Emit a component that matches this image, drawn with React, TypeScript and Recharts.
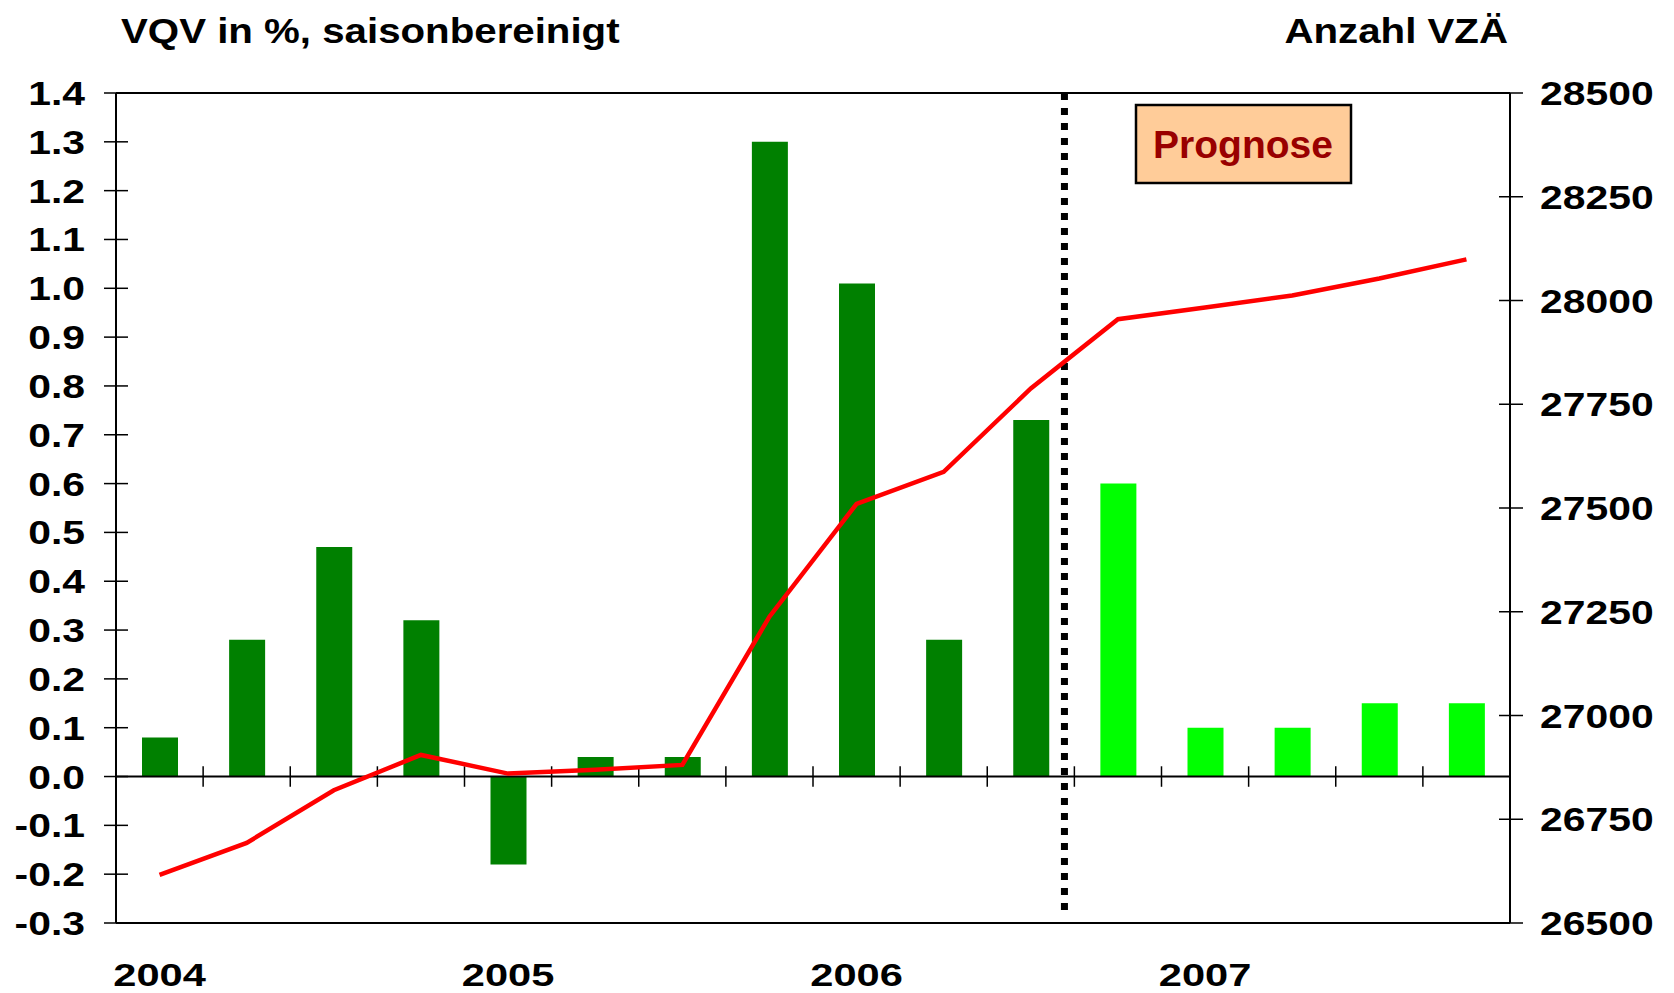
import React from "react";
import {
  ComposedChart,
  Bar,
  Line,
  XAxis,
  YAxis,
  Cell,
  ReferenceLine,
} from "recharts";

// ---- data ----
const quarters = [
  "2004 Q1", "2004 Q2", "2004 Q3", "2004 Q4",
  "2005 Q1", "2005 Q2", "2005 Q3", "2005 Q4",
  "2006 Q1", "2006 Q2", "2006 Q3", "2006 Q4",
  "2007 Q1", "2007 Q2", "2007 Q3", "2007 Q4",
];
const yearLabels = ["2004", "2005", "2006", "2007"];
const vqv = [0.08, 0.28, 0.47, 0.32, -0.18, 0.04, 0.04, 1.3, 1.01, 0.28, 0.73, 0.6, 0.1, 0.1, 0.15, 0.15];
const vza = [26616, 26693, 26820, 26905, 26860, 26869, 26881, 27238, 27510, 27587, 27788, 27955, 27983, 28012, 28053, 28099];
const isForecast = [false, false, false, false, false, false, false, false, false, false, false, true, true, true, true, true];
const leftTicks = [-0.3, -0.2, -0.1, 0, 0.1, 0.2, 0.3, 0.4, 0.5, 0.6, 0.7, 0.8, 0.9, 1.0, 1.1, 1.2, 1.3, 1.4];
const rightTicks = [26500, 26750, 27000, 27250, 27500, 27750, 28000, 28250, 28500];
const forecastBoundary = 10.886; // dotted "Prognose" separator, in quarter units from the left edge
const leftTitle = "VQV in %, saisonbereinigt";
const rightTitle = "Anzahl VZÄ";
const prognoseLabel = "Prognose";

const data = quarters.map((q, i) => ({ q, pos: i + 0.5, vqv: vqv[i], vza: vza[i] }));

const FONT = "'Liberation Sans', Arial, Helvetica, sans-serif";
const SX = 1.22;

const LeftTick = (props: any) => {
  const { x, y, payload } = props;
  const ax = x + 31;
  return (
    <g>
      <line x1={ax - 12} x2={ax + 12} y1={y} y2={y} stroke="#000" strokeWidth={1.5} />
      <text
        transform={`translate(${x},${y + 12}) scale(${SX},1)`}
        textAnchor="end"
        fontFamily={FONT}
        fontWeight="bold"
        fontSize={33.5}
        fill="#000"
      >
        {Number(payload.value).toFixed(1)}
      </text>
    </g>
  );
};

const RightTick = (props: any) => {
  const { x, y, payload } = props;
  const ax = x - 30;
  return (
    <g>
      <line x1={ax - 11} x2={ax + 13} y1={y} y2={y} stroke="#000" strokeWidth={1.5} />
      <text
        transform={`translate(${x},${y + 12}) scale(${SX},1)`}
        textAnchor="start"
        fontFamily={FONT}
        fontWeight="bold"
        fontSize={33.5}
        fill="#000"
      >
        {payload.value}
      </text>
    </g>
  );
};

const YearTick = (props: any) => {
  const { x, y, payload, index } = props;
  const label = String(payload.value);
  if (!label.endsWith("Q1")) return <g />;
  const year = yearLabels[Math.floor(index / 4)];
  return (
    <text
      transform={`translate(${x},${y + 63}) scale(1.3,1)`}
      textAnchor="middle"
      fontFamily={FONT}
      fontWeight="bold"
      fontSize={32}
      fill="#000"
    >
      {year}
    </text>
  );
};

export default function App() {
  return (
    <div style={{ position: "absolute", left: 0, top: 0, width: 1674, height: 993, background: "#fff" }}>
      <ComposedChart
        width={1674}
        height={993}
        data={data}
        margin={{ top: 93, right: 0, bottom: 0, left: 0 }}
      >
        <XAxis
          xAxisId="cat"
          dataKey="q"
          type="category"
          interval={0}
          height={70}
          tickSize={0}
          tickMargin={0}
          tickLine={false}
          axisLine={{ stroke: "#000", strokeWidth: 2 }}
          tick={<YearTick />}
        />
        <XAxis
          xAxisId="num"
          dataKey="pos"
          type="number"
          domain={[0, quarters.length]}
          hide
          allowDataOverflow
        />
        <YAxis
          yAxisId="left"
          orientation="left"
          width={116}
          domain={[-0.3, 1.4]}
          ticks={leftTicks}
          interval={0}
          allowDataOverflow
          tickSize={12}
          tickMargin={19}
          tickLine={false}
          axisLine={{ stroke: "#000", strokeWidth: 2 }}
          tick={<LeftTick />}
        />
        <YAxis
          yAxisId="right"
          orientation="right"
          width={164}
          domain={[26500, 28500]}
          ticks={rightTicks}
          interval={0}
          allowDataOverflow
          tickSize={12}
          tickMargin={18}
          tickLine={false}
          axisLine={{ stroke: "#000", strokeWidth: 2 }}
          tick={<RightTick />}
        />
        <ReferenceLine yAxisId="left" xAxisId="cat" y={1.4} stroke="#000" strokeWidth={2} ifOverflow="visible" />
        <Bar
          xAxisId="cat"
          yAxisId="left"
          dataKey="vqv"
          barSize={36}
          isAnimationActive={false}
        >
          {data.map((d, i) => (
            <Cell key={d.q} fill={isForecast[i] ? "#00FF00" : "#008000"} />
          ))}
        </Bar>
        <ReferenceLine yAxisId="left" xAxisId="cat" y={0} stroke="#000" strokeWidth={2} />
        {quarters.slice(1).map((q, i) => (
          <ReferenceLine
            key={"t" + q}
            xAxisId="num"
            yAxisId="left"
            segment={[{ x: i + 1, y: -0.021 }, { x: i + 1, y: 0.021 }]}
            stroke="#000"
            strokeWidth={1.5}
          />
        ))}
        <ReferenceLine
          xAxisId="num"
          yAxisId="left"
          segment={[{ x: forecastBoundary, y: 1.4 }, { x: forecastBoundary, y: -0.284 }]}
          stroke="#000"
          strokeWidth={7}
          strokeDasharray="7 8"
        />
        <Line
          xAxisId="cat"
          yAxisId="right"
          dataKey="vza"
          type="linear"
          stroke="#FF0000"
          strokeWidth={4.5}
          dot={false}
          activeDot={false}
          isAnimationActive={false}
        />
      </ComposedChart>
      <svg
        width={1674}
        height={993}
        style={{ position: "absolute", left: 0, top: 0, pointerEvents: "none" }}
      >
        <text
          transform={`translate(121,43) scale(1.15,1)`}
          fontFamily={FONT}
          fontWeight="bold"
          fontSize={35}
          fill="#000"
        >
          {leftTitle}
        </text>
        <text
          transform={`translate(1508,43) scale(1.15,1)`}
          textAnchor="end"
          fontFamily={FONT}
          fontWeight="bold"
          fontSize={35}
          fill="#000"
        >
          {rightTitle}
        </text>
        <rect x={1136} y={105} width={215} height={78} fill="#FFCC99" stroke="#000" strokeWidth={2.5} />
        <text
          x={1243}
          y={158}
          textAnchor="middle"
          fontFamily={FONT}
          fontWeight="bold"
          fontSize={39}
          fill="#990000"
        >
          {prognoseLabel}
        </text>
      </svg>
    </div>
  );
}
